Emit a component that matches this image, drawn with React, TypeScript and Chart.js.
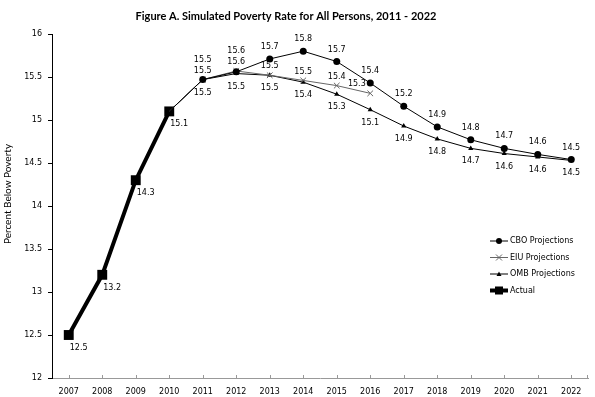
import React, { useEffect, useRef } from "react";
import { Chart, registerables } from "chart.js";

Chart.register(...registerables);

const years = ["2007", "2008", "2009", "2010", "2011", "2012", "2013", "2014", "2015", "2016", "2017", "2018", "2019", "2020", "2021", "2022"];
const actual = [12.5, 13.2, 14.3, 15.1, null, null, null, null, null, null, null, null, null, null, null, null];
const cbo = [null, null, null, 15.1, 15.47, 15.56, 15.71, 15.8, 15.68, 15.43, 15.16, 14.92, 14.77, 14.67, 14.6, 14.54];
const eiu = [null, null, null, 15.1, 15.47, 15.57, 15.52, 15.46, 15.4, 15.31, null, null, null, null, null, null];
const omb = [null, null, null, 15.1, 15.47, 15.54, 15.52, 15.44, 15.3, 15.12, 14.93, 14.78, 14.67, 14.61, 14.57, 14.53];
const yTicks = [12, 12.5, 13, 13.5, 14, 14.5, 15, 15.5, 16];

const TITLE = "Figure A. Simulated Poverty Rate for All Persons, 2011 - 2022";
const Y_TITLE = "Percent Below Poverty";

const labelPlace: Record<string, string> = {
  "EIU Projections": "above",
  "CBO Projections": "above2",
  "OMB Projections": "below",
  Actual: "belowRight",
};
const labelOrder = ["EIU Projections", "CBO Projections", "OMB Projections", "Actual"];

function drawMarker(ctx: CanvasRenderingContext2D, style: string, x: number, y: number, r: number, color: string) {
  ctx.save();
  ctx.fillStyle = color;
  ctx.strokeStyle = color;
  ctx.lineWidth = 1;
  ctx.beginPath();
  if (style === "circle") {
    ctx.arc(x, y, r, 0, Math.PI * 2);
    ctx.fill();
  } else if (style === "crossRot") {
    ctx.moveTo(x - r, y - r);
    ctx.lineTo(x + r, y + r);
    ctx.moveTo(x - r, y + r);
    ctx.lineTo(x + r, y - r);
    ctx.stroke();
  } else if (style === "triangle") {
    ctx.moveTo(x, y - r);
    ctx.lineTo(x + r, y + r * 0.8);
    ctx.lineTo(x - r, y + r * 0.8);
    ctx.closePath();
    ctx.fill();
  } else {
    ctx.fillRect(x - r, y - r, 2 * r, 2 * r);
  }
  ctx.restore();
}

const overlay = {
  id: "overlay",
  afterDatasetsDraw(chart: any) {
    const ctx: CanvasRenderingContext2D = chart.ctx;
    ctx.save();
    ctx.font = "8px 'DejaVu Sans'";
    ctx.fillStyle = "#000";
    ctx.textBaseline = "middle";
    const boxes: { x1: number; x2: number; y1: number; y2: number }[] = [];
    // marker obstacles
    const markers: { x: number; y: number; r: number; di: number }[] = [];
    chart.data.datasets.forEach((ds: any, di: number) => {
      const meta = chart.getDatasetMeta(di);
      ds.data.forEach((v: number | null, i: number) => {
        if (v == null) return;
        if (ds.label !== "Actual" && actual[i] != null) return;
        markers.push({ x: meta.data[i].x, y: meta.data[i].y, r: 3.5, di });
      });
    });
    const H = 9;
    labelOrder.forEach((name) => {
      const di = chart.data.datasets.findIndex((d: any) => d.label === name);
      if (di < 0) return;
      const ds = chart.data.datasets[di];
      const meta = chart.getDatasetMeta(di);
      const place = labelPlace[name];
      ds.data.forEach((v: number | null, i: number) => {
        if (v == null) return;
        if (name !== "Actual" && actual[i] != null) return;
        const pt = meta.data[i];
        const txt = v.toFixed(1);
        const w = ctx.measureText(txt).width;
        let cy = pt.y;
        let dir = -1;
        let x1: number;
        if (place === "above") cy = pt.y - 9;
        else if (place === "above2") cy = pt.y - 12;
        else {
          cy = pt.y + 13;
          dir = 1;
        }
        if (place === "belowRight") x1 = pt.x + 1;
        else x1 = pt.x - w / 2;
        let moved = true;
        let guard = 0;
        while (moved && guard < 10) {
          moved = false;
          guard++;
          for (const b of boxes) {
            const y1 = cy - H / 2;
            const y2 = cy + H / 2;
            if (x1 < b.x2 && x1 + w > b.x1 && y1 < b.y2 + 2 && y2 > b.y1 - 2) {
              cy = dir < 0 ? b.y1 - 2 - H / 2 : b.y2 + 2 + H / 2;
              moved = true;
            }
          }
        }
        // avoid other series' markers by sliding left
        for (const m of markers) {
          if (m.di === di) continue;
          const y1 = cy - H / 2;
          const y2 = cy + H / 2;
          const ov = Math.min(y2, m.y + m.r) - Math.max(y1, m.y - m.r);
          if (ov > 2 && x1 < m.x + m.r && x1 + w > m.x - m.r) {
            x1 = m.x - m.r - 1 - w;
          }
        }
        boxes.push({ x1, x2: x1 + w, y1: cy - H / 2, y2: cy + H / 2 });
        ctx.textAlign = "left";
        ctx.fillText(txt, x1, cy);
      });
    });
    ctx.restore();
  },
  afterDraw(chart: any) {
    const ctx: CanvasRenderingContext2D = chart.ctx;
    const area = chart.chartArea;
    ctx.save();
    ctx.fillStyle = "#000";
    ctx.font = "bold 11px Lato";
    ctx.textAlign = "center";
    ctx.textBaseline = "middle";
    ctx.fillText(TITLE, 286, 16);
    ctx.save();
    ctx.translate(8, 194);
    ctx.rotate(-Math.PI / 2);
    ctx.font = "10px Lato";
    ctx.fillText(Y_TITLE, 0, 0);
    ctx.restore();
    const xs = chart.scales.x;
    ctx.strokeStyle = "#999";
    ctx.lineWidth = 1;
    ctx.beginPath();
    years.forEach((_, i) => {
      const px = Math.round(xs.getPixelForValue(i)) + 0.5;
      ctx.moveTo(px, area.bottom);
      ctx.lineTo(px, area.bottom - 3);
    });
    ctx.moveTo(area.right - 0.5, area.bottom);
    ctx.lineTo(area.right - 0.5, area.bottom - 3);
    ctx.stroke();
    const lx = 490;
    let ly = 241;
    ctx.font = "8px 'DejaVu Sans'";
    ctx.textAlign = "left";
    chart.data.datasets.forEach((ds: any) => {
      ctx.strokeStyle = ds.borderColor;
      ctx.lineWidth = ds.borderWidth;
      ctx.beginPath();
      ctx.moveTo(lx, ly);
      ctx.lineTo(lx + 18, ly);
      ctx.stroke();
      const r = ds.pointStyle === "rect" ? 4 : ds.pointStyle === "triangle" ? 2.5 : 3;
      drawMarker(ctx, ds.pointStyle, lx + 9, ly, r, ds.borderColor);
      ctx.fillStyle = "#000";
      ctx.fillText(ds.label, lx + 20, ly);
      ly += 16.5;
    });
    ctx.restore();
  },
};

export default function App() {
  const ref = useRef<HTMLCanvasElement>(null);
  useEffect(() => {
    if (!ref.current) return;
    Chart.defaults.font.family = "'DejaVu Sans'";
    Chart.defaults.font.size = 8;
    Chart.defaults.color = "#000";
    const hideOnActual = (r: number) => (c: any) => (actual[c.dataIndex] != null ? 0 : r);
    const chart = new Chart(ref.current, {
      type: "line",
      data: {
        labels: years,
        datasets: [
          {
            label: "CBO Projections",
            data: cbo,
            borderColor: "#000",
            backgroundColor: "#000",
            borderWidth: 1,
            pointStyle: "circle",
            pointRadius: hideOnActual(3.5),
            pointBorderWidth: 0,
          },
          {
            label: "EIU Projections",
            data: eiu,
            borderColor: "#666",
            backgroundColor: "#666",
            borderWidth: 1,
            pointStyle: "crossRot",
            pointRadius: hideOnActual(4),
            pointBorderWidth: 1,
          },
          {
            label: "OMB Projections",
            data: omb,
            borderColor: "#000",
            backgroundColor: "#000",
            borderWidth: 1,
            pointStyle: "triangle",
            pointRadius: hideOnActual(3),
            pointBorderWidth: 0,
          },
          {
            label: "Actual",
            data: actual,
            borderColor: "#000",
            backgroundColor: "#000",
            borderWidth: 4,
            pointStyle: "rect",
            pointRadius: 7,
            pointBorderWidth: 0,
          },
        ],
      } as any,
      options: {
        responsive: false,
        animation: false,
        events: [],
        layout: { padding: { top: 34, right: 6, left: 0, bottom: 0 } },
        plugins: { legend: { display: false }, tooltip: { enabled: false }, title: { display: false } },
        scales: {
          x: {
            type: "category",
            offset: true,
            grid: { display: false, drawTicks: false },
            border: { display: true, color: "#999", width: 1 },
            ticks: { padding: 9, maxRotation: 0, autoSkip: false, color: "#000", font: { size: 8 } },
            afterFit: (s: any) => {
              s.height = 19;
            },
          },
          y: {
            min: 12,
            max: 16,
            afterBuildTicks: (s: any) => {
              s.ticks = yTicks.map((v) => ({ value: v }));
            },
            grid: { display: true, drawOnChartArea: false, drawTicks: true, tickLength: 4, color: "#000" },
            border: { display: true, color: "#000", width: 1 },
            ticks: { padding: 6, color: "#000", font: { size: 8 }, callback: (v: number) => String(v) },
            afterFit: (s: any) => {
              s.width = 52;
            },
          },
        },
      } as any,
      plugins: [overlay],
    });
    return () => chart.destroy();
  }, []);
  return (
    <div style={{ position: "absolute", left: 0, top: 0, width: 595, height: 397, background: "#fff" }}>
      <canvas ref={ref} width={595} height={397} />
    </div>
  );
}
